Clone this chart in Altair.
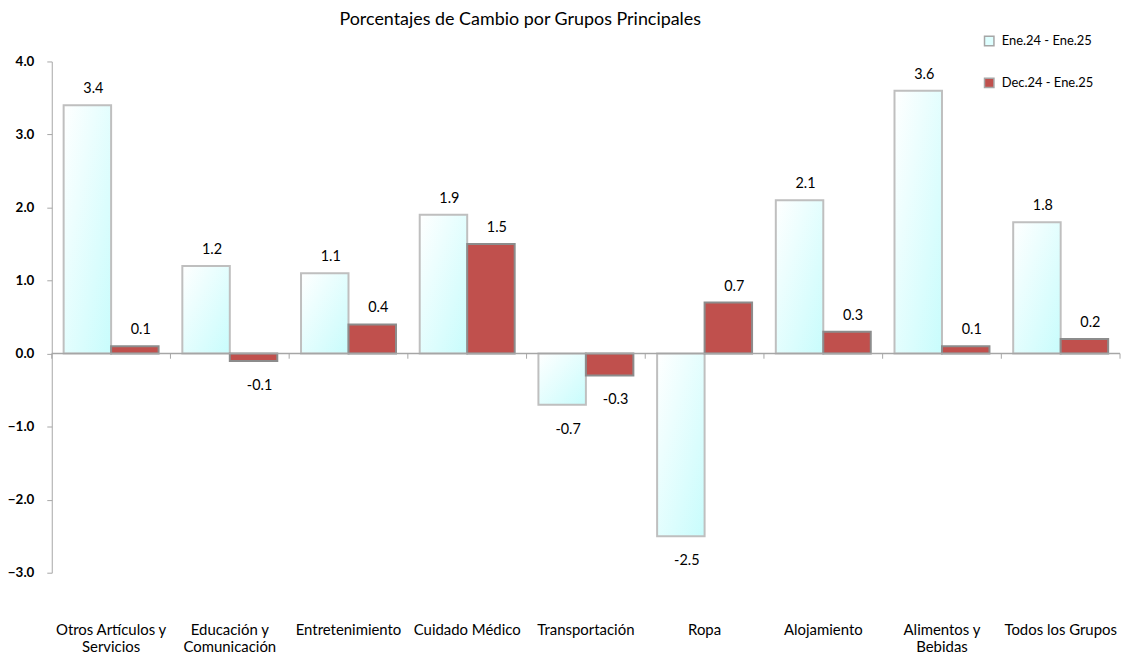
import altair as alt
import pandas as pd

categories = ["Otros Artículos  y\nServicios", "Educación y\nComunicación", "Entretenimiento",
              "Cuidado Médico", "Transportación", "Ropa", "Alojamiento",
              "Alimentos  y\nBebidas", "Todos los Grupos"]
series = ["Ene.24 - Ene.25", "Dec.24  - Ene.25"]
annual = [3.4, 1.2, 1.1, 1.9, -0.7, -2.5, 2.1, 3.6, 1.8]
monthly = [0.1, -0.1, 0.4, 1.5, -0.3, 0.7, 0.3, 0.1, 0.2]
boundaries = list(range(10))

rows = []
for c, a, m in zip(categories, annual, monthly):
    rows.append({"cat": c, "series": series[0], "value": a})
    rows.append({"cat": c, "series": series[1], "value": m})
df = pd.DataFrame(rows)
df["label"] = df["value"].map(lambda v: f"{v:.1f}")

FONT = "Lato"
W, H = 1074, 514

x_enc = alt.X("cat:N", sort=categories, title=None,
              scale=alt.Scale(paddingInner=0.2, paddingOuter=0.1),
              axis=alt.Axis(domain=False, ticks=False, labelAngle=0, labelFont=FONT,
                            labelFontSize=15, labelColor="#000000", labelPadding=50,
                            labelExpr="split(datum.label, '\\n')", labelLineHeight=17,
                            labelBaseline="top"))
xo_enc = alt.XOffset("series:N", sort=series, scale=alt.Scale(domain=series, paddingInner=0, paddingOuter=0))
y_scale = alt.Scale(domain=[-3, 4], nice=False, zero=False)
y_enc = alt.Y("value:Q", scale=y_scale, title=None,
              axis=alt.Axis(values=[-3, -2, -1, 0, 1, 2, 3, 4], format=".1f", grid=False,
                            domainColor="#A6A6A6", tickColor="#A6A6A6", tickSize=5,
                            labelFont=FONT, labelFontSize=13.5, labelFontWeight="bold",
                            labelColor="#000000", labelPadding=13))

base = alt.Chart(df)

grad = alt.Gradient(gradient="linear",
                    stops=[alt.GradientStop(color="#FFFFFF", offset=0),
                           alt.GradientStop(color="#C8FCFC", offset=1)],
                    x1=0, x2=1, y1=0, y2=1)

light = base.transform_filter(alt.datum.series == series[0]).mark_bar(
    fill=grad, stroke="#BFBFBF", strokeWidth=2
).encode(x=x_enc, xOffset=xo_enc, y=y_enc, y2=alt.datum(0))

red = base.transform_filter(alt.datum.series == series[1]).mark_bar(
    stroke="#8C8C8C", strokeWidth=2
).encode(
    x=alt.X("cat:N", sort=categories), xOffset=xo_enc, y=alt.Y("value:Q"), y2=alt.datum(0),
    color=alt.Color("series:N", scale=alt.Scale(domain=series, range=["#DFFFFF", "#C0504D"]),
                    legend=alt.Legend(title=None, orient="none", legendX=936, legendY=-27,
                                      symbolType="square", symbolSize=90,
                                      symbolStrokeColor="#A6A6A6", symbolStrokeWidth=1.5,
                                      labelFont=FONT, labelFontSize=13, labelColor="#000000",
                                      rowPadding=25, labelOffset=6))
)

pos_text = base.transform_filter(alt.datum.value >= 0).mark_text(
    font=FONT, fontSize=14.5, color="#000000", baseline="middle", dy=-16, dx=6
).encode(x=alt.X("cat:N", sort=categories), xOffset=xo_enc, y=alt.Y("value:Q"), text="label:N")

neg_text = base.transform_filter(alt.datum.value < 0).mark_text(
    font=FONT, fontSize=14.5, color="#000000", baseline="middle", dy=25, dx=6
).encode(x=alt.X("cat:N", sort=categories), xOffset=xo_enc, y=alt.Y("value:Q"), text="label:N")

zero = alt.Chart(pd.DataFrame({"z": [0]})).mark_rule(color="#A6A6A6", strokeWidth=1.5).encode(
    y=alt.Y("z:Q", scale=y_scale))

ticks = alt.Chart(pd.DataFrame({"b": boundaries})).mark_rule(color="#A6A6A6", strokeWidth=1).encode(
    x=alt.X("b:Q", scale=alt.Scale(domain=[0, 9], nice=False, zero=False), axis=None),
    y=alt.datum(0, scale=y_scale), y2=alt.datum(-0.07))

bars = alt.layer(light, red, pos_text, neg_text, zero)
chart = alt.layer(bars, ticks).resolve_scale(x="independent").properties(
    width=W, height=H,
    title=alt.Title("Porcentajes de Cambio por Grupos Principales", font=FONT, fontSize=18,
                    fontWeight="normal", color="#000000", anchor="middle", offset=6, dx=-66),
    padding={"left": 44, "top": 52, "right": 5, "bottom": 86},
    autosize=alt.AutoSizeParams(type="none"),
).configure_view(stroke=None)

chart.save("out.html", embed_options={"renderer": "svg", "actions": False})
